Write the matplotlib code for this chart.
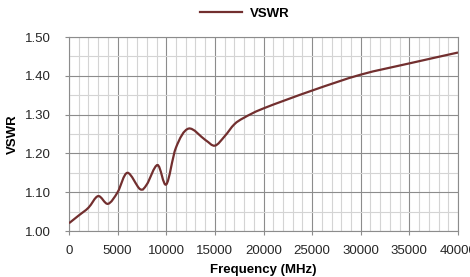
import numpy as np
import matplotlib
matplotlib.use("Agg")
import matplotlib.pyplot as plt
from matplotlib.path import Path
from matplotlib.patches import PathPatch
from matplotlib.lines import Line2D
from matplotlib.ticker import MultipleLocator

plt.rcParams['font.family'] = ['Liberation Sans', 'DejaVu Sans']

# values
freq = [0, 1000, 2000, 3000, 4000, 5000, 6000, 7300, 8000, 9100, 10000,
        11000, 12300, 14000, 15000, 16000, 17000, 18000, 20000, 25000,
        30000, 35000, 40000]
vswr = [1.02, 1.04, 1.06, 1.09, 1.07, 1.10, 1.15, 1.108, 1.12, 1.17, 1.12,
        1.215, 1.264, 1.235, 1.22, 1.244, 1.275, 1.292, 1.316, 1.362,
        1.403, 1.432, 1.46]
xticks = [0, 5000, 10000, 15000, 20000, 25000, 30000, 35000, 40000]
yticks = [1.00, 1.10, 1.20, 1.30, 1.40, 1.50]

line_color = '#722F2F'


# smoothed line like the spreadsheet (Catmull-Rom -> cubic bezier)
def smooth_path(x, y):
    x = np.asarray(x, float)
    y = np.asarray(y, float)
    verts = [(x[0], y[0])]
    codes = [Path.MOVETO]
    n = len(x)
    for i in range(n - 1):
        x0, y0 = (x[i - 1], y[i - 1]) if i > 0 else (x[i], y[i])
        x3, y3 = (x[i + 2], y[i + 2]) if i + 2 < n else (x[i + 1], y[i + 1])
        x1, y1, x2, y2 = x[i], y[i], x[i + 1], y[i + 1]
        c1 = (x1 + (x2 - x0) / 6, y1 + (y2 - y0) / 6)
        c2 = (x2 - (x3 - x1) / 6, y2 - (y3 - y1) / 6)
        verts += [c1, c2, (x2, y2)]
        codes += [Path.CURVE4] * 3
    return Path(verts, codes)


fig = plt.figure(figsize=(4.7, 2.77), dpi=100)
ax = fig.add_axes([69 / 470, 1 - 231 / 277, 389 / 470, 194 / 277])

ax.add_patch(PathPatch(smooth_path(freq, vswr), facecolor='none',
                       edgecolor=line_color, lw=1.6, zorder=3))

ax.set_xlim(0, 40000)
ax.set_ylim(1.0, 1.5)
ax.set_xticks(xticks)
ax.set_yticks(yticks)
ax.set_yticklabels(['%.2f' % v for v in yticks])
ax.xaxis.set_minor_locator(MultipleLocator(1000))
ax.yaxis.set_minor_locator(MultipleLocator(0.05))
ax.grid(which='minor', color='#d4d4d4', lw=0.8)
ax.grid(which='major', color='#8c8c8c', lw=0.8)
ax.set_axisbelow(True)
for s in ax.spines.values():
    s.set_color('#8c8c8c')
    s.set_linewidth(0.8)
ax.tick_params(which='major', length=3, color='#8c8c8c', labelsize=9.5,
               labelcolor='#262626')
ax.tick_params(axis='x', pad=7)
ax.tick_params(axis='y', pad=10)
ax.tick_params(which='minor', length=0)

ax.set_xlabel('Frequency (MHz)', fontsize=9.5, fontweight='bold', labelpad=5)
ax.set_ylabel('VSWR', fontsize=9.5, fontweight='bold', labelpad=4)

handle = Line2D([], [], color=line_color, lw=1.6)
fig.legend([handle], ['VSWR'], loc='center', bbox_to_anchor=(0.52, 0.95),
           frameon=False, prop={'weight': 'bold', 'size': 9.5},
           handlelength=3.2, handletextpad=0.6)

fig.savefig('out.png', dpi=100)
